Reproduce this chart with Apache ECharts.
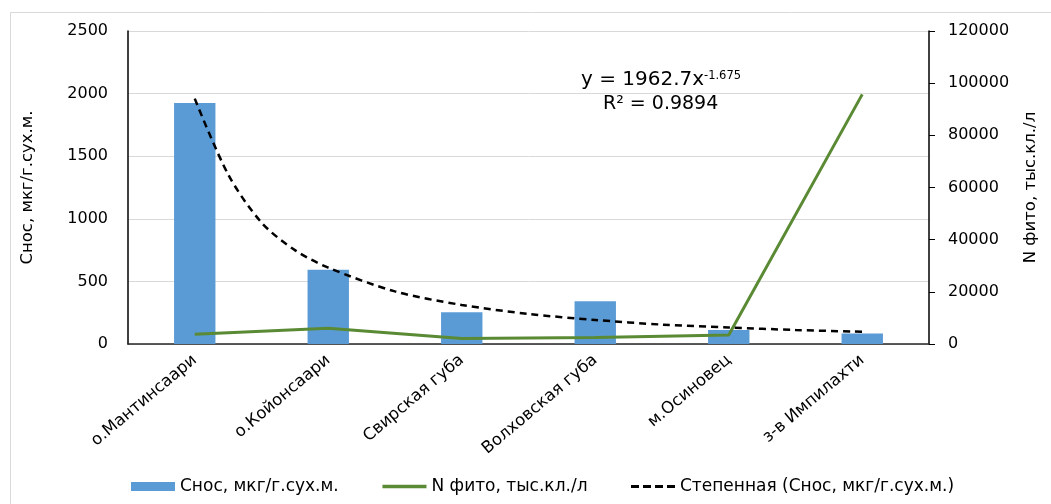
<!DOCTYPE html>
<html><head><meta charset="utf-8">
<script src="https://cdn.jsdelivr.net/npm/echarts@6/dist/echarts.min.js"></script>
<style>html,body{margin:0;padding:0;background:#fff}#c{width:1051px;height:504px}</style>
</head><body><div id="c"></div>
<script>
const categories = ['о.Мантинсаари','о.Койонсаари','Свирская губа','Волховская губа','м.Осиновец','з-в Импилахти'];
const snos = [1925, 594, 254, 341, 111, 83];
const nPhyto = [3700, 6000, 2100, 2450, 3450, 95700];
// power trendline (category position, value)
const trendX = [1, 1.25, 1.5, 1.75, 2, 2.5, 3, 3.5, 4, 4.5, 5, 5.5, 6];
const trendY = [1960, 1355, 970, 750, 610, 420, 312, 240, 192, 155, 132, 112, 98];
const leftTicks = {min: 0, max: 2500, interval: 500};
const rightTicks = {min: 0, max: 120000, interval: 20000};
const FONT = 'DejaVu Sans';

const chart = echarts.init(document.getElementById('c'));
chart.setOption({
  animation: false,
  textStyle: {fontFamily: FONT},
  grid: {left: 128, right: 122, top: 31, bottom: 160},
  graphic: [
    {type: 'rect', shape: {x: 10.5, y: 12.5, width: 1100, height: 600}, style: {fill: 'none', stroke: '#d9d9d9', lineWidth: 1}, silent: true},
    {type: 'text', left: 581, top: 70, style: {text: 'y = 1962.7x', fontFamily: FONT, fontSize: 20, fill: '#000'}},
    {type: 'text', left: 704, top: 70, style: {text: '-1.675', fontFamily: FONT, fontSize: 11.5, fill: '#000'}},
    {type: 'text', left: 603, top: 95, style: {text: 'R² = 0.9894', fontFamily: FONT, fontSize: 19, fill: '#000'}}
  ],
  legend: {
    bottom: 4, left: 126, itemGap: 42, itemWidth: 44, itemHeight: 9,
    textStyle: {fontFamily: FONT, fontSize: 17, color: '#000'},
    data: [
      {name: 'Снос, мкг/г.сух.м.', icon: 'rect'},
      {name: 'N фито, тыс.кл./л', itemStyle: {opacity: 0}, lineStyle: {width: 3.5, color: '#5a8a34'}},
      {name: 'Степенная (Снос, мкг/г.сух.м.)', itemStyle: {opacity: 0}, lineStyle: {width: 3, color: '#000', type: [8, 4]}}
    ]
  },
  xAxis: [
    {type: 'category', data: categories, boundaryGap: true,
     axisLine: {lineStyle: {color: '#262626', width: 1.5}},
     axisTick: {show: false},
     axisLabel: {rotate: 40, fontSize: 16.5, color: '#000', fontFamily: FONT, margin: 14}},
    {type: 'value', min: 0.5, max: 6.5, show: false}
  ],
  yAxis: [
    {type: 'value', min: leftTicks.min, max: leftTicks.max, interval: leftTicks.interval,
     name: 'Снос, мкг/г.сух.м.', nameLocation: 'middle', nameGap: 92, nameRotate: 90,
     nameTextStyle: {fontSize: 16.5, color: '#000', fontFamily: FONT},
     axisLine: {show: true, lineStyle: {color: '#000', width: 1.5}},
     axisTick: {show: false},
     axisLabel: {fontSize: 16, color: '#000', margin: 20, fontFamily: FONT, formatter: v => String(v)},
     splitLine: {lineStyle: {color: '#d9d9d9', width: 1}}},
    {type: 'value', position: 'right', min: rightTicks.min, max: rightTicks.max, interval: rightTicks.interval,
     name: 'N фито, тыс.кл./л', nameLocation: 'middle', nameGap: 93, nameRotate: 90,
     nameTextStyle: {fontSize: 16.5, color: '#000', fontFamily: FONT},
     axisLine: {show: true, lineStyle: {color: '#000', width: 1.5}},
     axisTick: {show: true, length: 6, lineStyle: {color: '#000'}},
     axisLabel: {fontSize: 16, color: '#000', margin: 19, fontFamily: FONT, formatter: v => String(v)},
     splitLine: {show: false}}
  ],
  series: [
    {name: 'Снос, мкг/г.сух.м.', type: 'bar', data: snos, barWidth: '31%', itemStyle: {color: '#5b9bd5'}, yAxisIndex: 0},
    {name: 'N фито, тыс.кл./л', type: 'line', data: nPhyto, yAxisIndex: 1, symbol: 'none',
     lineStyle: {color: '#5a8a34', width: 3}, itemStyle: {color: '#5a8a34'}},
    {name: 'Степенная (Снос, мкг/г.сух.м.)', type: 'line', xAxisIndex: 1, yAxisIndex: 0,
     data: trendX.map((x, i) => [x, trendY[i]]), symbol: 'none', smooth: 0.3, z: 5,
     lineStyle: {color: '#000', width: 2.5, type: [7, 5]}, itemStyle: {color: '#000'}}
  ]
});
</script></body></html>
